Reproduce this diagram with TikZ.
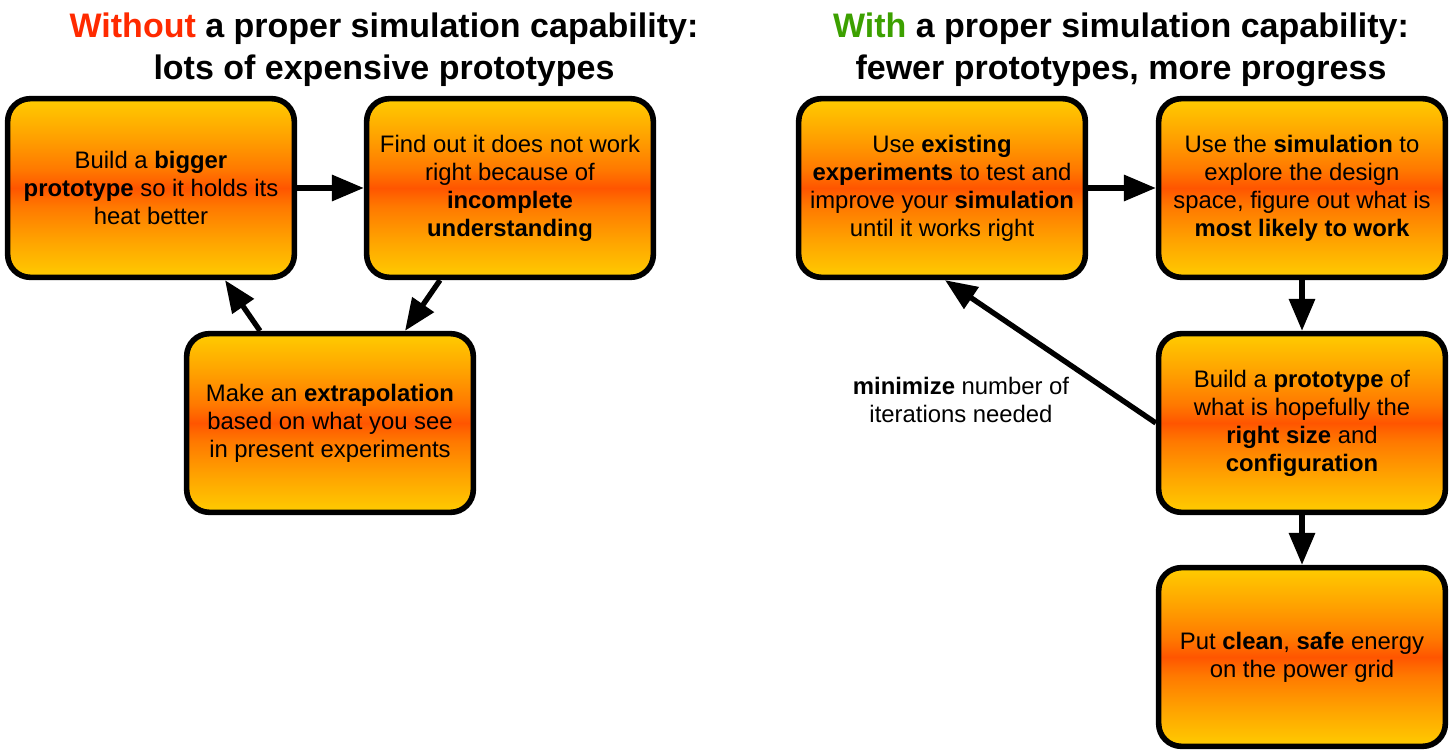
\documentclass[tikz,border=0pt]{standalone}
\usepackage{fontspec}
\setmainfont{Liberation Sans}
\usetikzlibrary{arrows.meta,calc}
\definecolor{yel}{HTML}{FFCC00}
\definecolor{orgA}{HTML}{FFA000}
\definecolor{orgB}{HTML}{FF7800}
\definecolor{redA}{HTML}{FF5500}
\definecolor{titlered}{HTML}{FF2A00}
\definecolor{titlegreen}{HTML}{3CA000}
\pgfdeclareverticalshading{boxshade}{100bp}{color(0bp)=(yel); color(25bp)=(yel); color(36bp)=(orgA); color(45bp)=(orgB); color(50bp)=(redA); color(55bp)=(orgB); color(64bp)=(orgA); color(75bp)=(yel); color(100bp)=(yel)}
\newcommand\bfnt{\fontsize{17.9}{21}\selectfont}
\newcommand\tfnt{\fontsize{25.5}{31.5}\selectfont\bfseries}
\tikzset{
  box/.style={draw, line width=4.2pt, rounded corners=17pt, shading=boxshade,
    minimum width=215pt, minimum height=134pt, inner sep=0pt, align=center, font=\bfnt},
  arr/.style={line width=4pt, -{Triangle[length=24pt,width=19pt]}},
  ttl/.style={align=center, font=\tfnt, inner sep=0pt},
  lbl/.style={align=center, font=\bfnt, inner sep=0pt}
}
\begin{document}
\begin{tikzpicture}[x=0.75pt, y=-0.75pt]
\useasboundingbox (0,0) rectangle (1452,752);
% titles
\node[ttl] (t1) at (384,50) {\textcolor{titlered}{Without} a proper simulation capability:\\ lots of expensive prototypes};
\node[ttl] (t2) at (1121,50) {\textcolor{titlegreen}{With} a proper simulation capability:\\ fewer prototypes, more progress};
% left cycle
\node[box] (A) at (151,188) {Build a \textbf{bigger}\\ \textbf{prototype} so it holds its\\ heat better};
\node[box] (B) at (510,188) {Find out it does not work\\ right because of\\ \textbf{incomplete}\\ \textbf{understanding}};
\node[box] (C) at (330,423) {Make an \textbf{extrapolation}\\ based on what you see\\ in present experiments};
% right flow
\node[box] (D) at (942,188) {Use \textbf{existing}\\ \textbf{experiments} to test and\\ improve your \textbf{simulation}\\ until it works right};
\node[box] (E) at (1302,188) {Use the \textbf{simulation} to\\ explore the design\\ space, figure out what is\\ \textbf{most likely to work}};
\node[box] (F) at (1302,423) {Build a \textbf{prototype} of\\ what is hopefully the\\ \textbf{right size} and\\ \textbf{configuration}};
\node[box] (G) at (1302,657) {Put \textbf{clean}, \textbf{safe} energy\\ on the power grid};
\node[lbl] (L) at (961,400) {\textbf{minimize} number of\\ iterations needed};
% connectors
\draw[arr] (A.east) -- (B.west);
\draw[arr] ($(B.south)+(-70,0)$) -- ($(C.north)+(75,0)$);
\draw[arr] ($(C.north)+(-70,0)$) -- ($(A.south)+(74,0)$);
\draw[arr] (D.east) -- (E.west);
\draw[arr] (E.south) -- (F.north);
\draw[arr] (F.south) -- (G.north);
\draw[arr] (F.west) -- ($(D.south)+(3,0)$);
\end{tikzpicture}
\end{document}
